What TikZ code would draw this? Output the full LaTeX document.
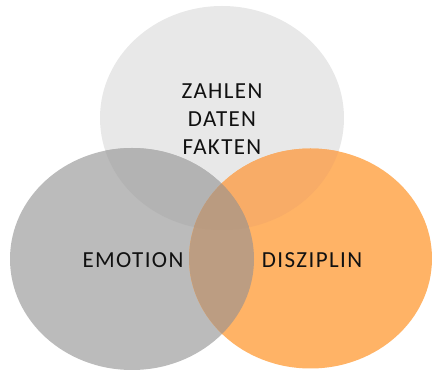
\documentclass[tikz,border=0pt]{standalone}
\usepackage{fontspec}
\setmainfont{Carlito}[LetterSpace=6]
\definecolor{cT}{HTML}{E8E8E8}
\definecolor{cL}{HTML}{BBBBBB}
\definecolor{cR}{HTML}{FFB366}
\definecolor{cTL}{HTML}{B3B3B3}
\definecolor{cTR}{HTML}{F8AC67}
\definecolor{cLR}{HTML}{BC9D82}
\definecolor{cTLR}{HTML}{BA9B80}
\definecolor{ink}{HTML}{111111}
\tikzset{
  lbl/.style={anchor=base, inner sep=0pt, text=ink, font=\fontsize{23}{28}\selectfont},
}
\newcommand{\shapeT}{(222,118) ellipse [x radius=122, y radius=112]}
\newcommand{\shapeL}{(132,259) ellipse [x radius=122, y radius=111]}
\newcommand{\shapeR}{(310.5,258.5) ellipse [x radius=121.5, y radius=110]}
\begin{document}
\begin{tikzpicture}[x=1pt,y=-1pt]
\useasboundingbox (0,0) rectangle (432,371);
\fill[cT] \shapeT;
\fill[cL] \shapeL;
\fill[cR] \shapeR;
\begin{scope}
  \clip \shapeT;
  \fill[cTL] \shapeL;
  \fill[cTR] \shapeR;
\end{scope}
\begin{scope}
  \clip \shapeL;
  \fill[cLR] \shapeR;
  \clip \shapeT;
  \fill[cTLR] \shapeR;
\end{scope}
\node[lbl] (zahlen) at (222,99) {ZAHLEN};
\node[lbl] (daten) at (222,127) {DATEN};
\node[lbl] (fakten) at (222,155) {FAKTEN};
\node[lbl] (emotion) at (133,268) {EMOTION};
\node[lbl] (disziplin) at (312,268) {DISZIPLIN};
\end{tikzpicture}
\end{document}
